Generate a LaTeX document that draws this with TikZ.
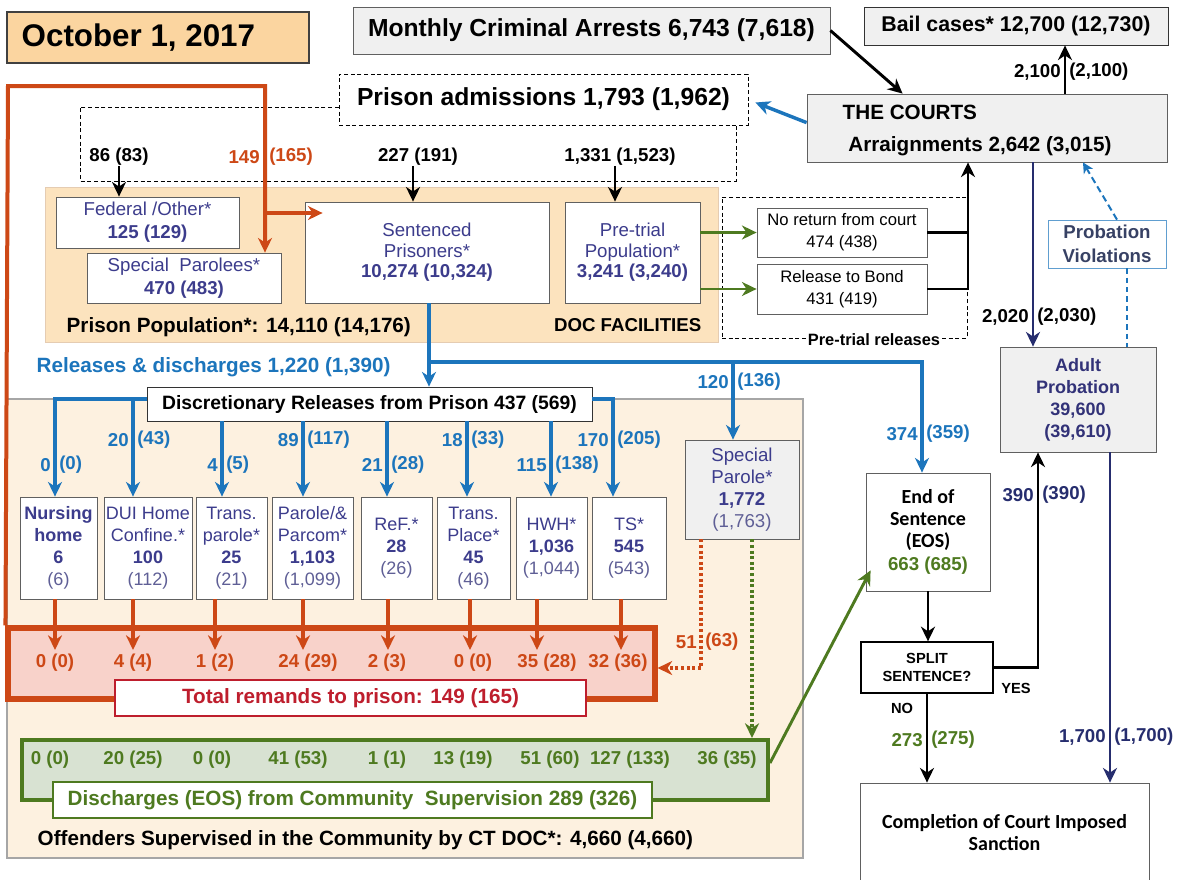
\documentclass[tikz,border=0pt]{standalone}
\usepackage{fontspec}
\setmainfont{Liberation Sans}
\newfontfamily\carl{Carlito}
\usetikzlibrary{arrows.meta,calc}
\newcommand\fs[2]{\fontsize{#1}{#2}\selectfont}
\definecolor{dateF}{RGB}{251,213,160}
\definecolor{docF}{RGB}{252,227,190}
\definecolor{comF}{RGB}{253,241,224}
\definecolor{grayF}{RGB}{240,240,240}
\definecolor{pb}{RGB}{60,60,140}
\definecolor{pbl}{RGB}{95,95,150}
\definecolor{bl}{RGB}{28,117,188}
\definecolor{rd}{RGB}{205,72,22}
\definecolor{crim}{RGB}{190,30,45}
\definecolor{gr}{RGB}{78,122,32}
\definecolor{grF}{RGB}{216,226,210}
\definecolor{pinkF}{RGB}{248,210,202}
\definecolor{nv}{RGB}{38,45,110}
\definecolor{apc}{RGB}{50,50,120}
\definecolor{pvc}{RGB}{55,65,100}
% box from corner (x1,y1) to (x2,y2) in pixels
\newcommand\BX[7]{\node[bx,minimum width={(#4-#2)*0.75pt},minimum height={(#5-#3)*0.75pt},#6] (#1) at ({(#2+#4)/2},{(#3+#5)/2}) {#7};}
\newcommand\splab[6]{%
  \node[lab,text=#4,anchor=east] (#1a) at (#2-4,#3) {#5};
  \node[lab,text=#4,anchor=west] (#1b) at (#2+4,#3) {#6};}
\newcommand\combox[4]{\BX{#1}{#2}{497}{#3}{599}{text=pb, font=\fs{13.5}{16.5}}{#4}}
\begin{document}
\begin{tikzpicture}[x=0.75pt,y=-0.75pt,
  bx/.style={draw=gray!75!black, line width=0.6pt, fill=white, inner sep=0pt, align=center},
  lab/.style={font=\bfseries\fs{14}{16}, inner sep=0pt},
  tip/.style={-{Stealth[length=11pt,width=10.5pt,inset=3.5pt]}},
  smalltip/.style={-{Stealth[length=8pt,width=8pt,inset=2.5pt]}},
  blk/.style={draw=black, line width=2.2pt, tip},
  blu/.style={draw=bl, line width=2.6pt, tip},
  rdl/.style={draw=rd, line width=2.4pt, tip},
  nvl/.style={draw=nv, line width=2pt, tip},
  grl/.style={draw=gr, line width=2.2pt, tip},
  dsh/.style={draw=black, line width=0.6pt, dash pattern=on 3pt off 2pt},
  dotl/.style={line width=2.8pt, dash pattern=on 2.2pt off 2pt, tip},
]
\path[use as bounding box, fill=white] (0,0) rectangle (1186,879);

% ---------- regions
\BX{comm}{7}{399}{803}{858}{draw=gray!70, line width=0.8pt, fill=comF}{}
\BX{doc}{45}{187}{718}{342}{draw=brown!40, fill=docF}{}

% ---------- top row
\BX{date}{7}{12}{309}{63}{fill=dateF, draw=gray!50!black, line width=0.9pt}{}
\node[anchor=west, font=\bfseries\fs{23.5}{26}] (datet) at (17,38) {October 1, 2017};
\BX{mon}{353}{7}{830}{54}{fill=grayF}{\bfseries\fs{18.5}{20}Monthly Criminal Arrests 6,743 (7,618)}
\BX{bail}{864}{7}{1168}{45}{fill=grayF, draw=black!80}{\bfseries\fs{16}{18}Bail cases* 12,700 (12,730)}
\BX{courts}{807}{94}{1167}{162}{fill=grayF}{}
\node[anchor=west, font=\bfseries\fs{15.5}{18}] (courtsT) at (838,112) {THE COURTS};
\node[font=\bfseries\fs{15.5}{18}] (arrg) at (980,146) {Arraignments 2,642 (3,015)};

\BX{adm}{339}{74}{748}{125}{draw=black, dash pattern=on 3pt off 2pt}{\bfseries\fs{18.5}{20}Prison admissions 1,793 (1,962)}
\coordinate (o1) at (80,107); \coordinate (o2) at (80,181); \coordinate (o3) at (736,181);
\draw[dsh] (adm.west |- o1) -- (o1) -- (o2) -- (o3) -- (o3 |- adm.south);

\node[lab] (l86) at (119,157) {86 (83)};
\node[lab, text=rd, anchor=east] (l149a) at (260,157) {149};
\node[lab, text=rd, anchor=west] (l149b) at (269,157) {(165)};
\node[lab] (l227) at (418,157) {227 (191)};
\node[lab] (l1331) at (620,157) {1,331 (1,523)};

% ---------- DOC facilities
\BX{fed}{56}{197}{239}{248}{text=pb, font=\fs{14}{17}}{Federal /Other*\\\textbf{125 (129)}}
\BX{spp}{87}{253}{281}{303}{text=pb, font=\fs{14}{17}}{Special\ \ Parolees*\\\textbf{470 (483)}}
\BX{sent}{305}{202}{549}{303}{text=pb, font=\fs{14}{15.5}}{Sentenced\\Prisoners*\\\textbf{10,274 (10,324)}}
\BX{pre}{565}{202}{700}{303}{text=pb, font=\fs{14}{15.5}}{Pre-trial\\Population*\\\textbf{3,241 (3,240)}}
\node[font=\bfseries\fs{15.5}{18}, anchor=west] (ppop) at (62,327) {Prison Population*: 14,110 (14,176)};
\node[font=\bfseries\fs{14}{16}, anchor=east] (docf) at (706,325) {DOC FACILITIES};

% ---------- pre-trial releases
\BX{ptr}{722}{197}{967}{338}{fill=none, draw=black, dash pattern=on 3pt off 2pt}{}
\node[font=\bfseries\fs{12.3}{14}, fill=white, inner sep=1.5pt] (ptrl) at (874,340) {Pre-trial releases};
\BX{nr}{757}{208}{927}{257}{font=\fs{12.5}{16.5}}{No return from court\\474 (438)}
\BX{rb}{757}{264}{927}{314}{font=\fs{12.5}{16.5}}{Release to Bond\\431 (419)}

% ---------- right column
\BX{pv}{1048}{220}{1166}{268}{draw=bl!70, text=pvc, font=\bfseries\fs{14}{18}}{Probation\\Violations}
\BX{ap}{1000}{347}{1156}{452}{fill=grayF, text=apc, font=\bfseries\fs{13.5}{16.5}}{Adult\\Probation\\39,600\\(39,610)}

% ---------- releases
\node[font=\bfseries\fs{15.5}{18}, text=bl, anchor=west] (rel) at (32,367) {Releases \& discharges 1,220 (1,390)};

% ---------- remands box
\BX{rem}{8}{628}{655}{699}{draw=rd, line width=3.8pt, fill=pinkF}{}
\BX{tot}{115}{680}{586}{716}{draw=crim, line width=1pt, text=crim, font=\bfseries\fs{15.5}{18}}{Total remands to prison: 149 (165)}

% ---------- discharges box
\BX{gbox}{22}{740}{768}{800}{draw=gr, line width=3pt, fill=grF}{}
\BX{dis}{53}{782}{652}{818}{draw=gr, line width=1pt, text=gr, font=\bfseries\fs{15.5}{18}}{Discharges (EOS) from Community\ \ Supervision 289 (326)}
\node[font=\bfseries\fs{15.5}{18}, anchor=west] (offs) at (33,840) {Offenders Supervised in the Community by CT DOC*: 4,660 (4,660)};

% ---------- red loop
\coordinate (r1) at (8,86); \coordinate (r2) at (265,86); \coordinate (r3) at (265,213);
\draw[draw=rd, line width=3pt, tip] (rem.north west) -- (r1) -- (r2) -- (r2 |- spp.north);
\draw[draw=rd, line width=3pt, tip] (r3) -- ($(r3 -| sent.west)+(18,0)$);

% ---------- discretionary and community boxes
\BX{disc}{147}{387}{592}{421}{draw=black!80, font=\bfseries\fs{14.5}{17}}{Discretionary Releases from Prison 437 (569)}
\combox{nh}{20}{97}{\textbf{Nursing}\\\textbf{home}\\\textbf{6}\\{\color{pbl}(6)}}
\combox{dui}{104}{192}{DUI\ Home\\Confine.*\\\textbf{100}\\{\color{pbl}(112)}}
\combox{tp}{196}{267}{Trans.\\parole*\\\textbf{25}\\{\color{pbl}(21)}}
\combox{par}{272}{353}{Parole/\&\\Parcom*\\\textbf{1,103}\\{\color{pbl}(1,099)}}
\combox{ref}{361}{432}{ReF.*\\\textbf{28}\\{\color{pbl}(26)}}
\combox{tpl}{437}{510}{Trans.\\Place*\\\textbf{45}\\{\color{pbl}(46)}}
\combox{hwh}{516}{587}{HWH*\\\textbf{1,036}\\{\color{pbl}(1,044)}}
\combox{ts}{592}{666}{TS*\\\textbf{545}\\{\color{pbl}(543)}}
\BX{sp}{685}{440}{799}{539}{fill=grayF, text=pb, font=\fs{14}{16.5}}{Special\\Parole*\\\textbf{1,772}\\{\color{pbl}(1,763)}}

% ---------- EOS / split / completion
\BX{eos}{866}{473}{990}{591}{font=\carl\bfseries\fs{15}{16.5}}{End of\\Sentence\\(EOS)\\[1pt]{\rmfamily\bfseries\fs{14}{16}\color{gr}663 (685)}}
\BX{split}{861}{642}{993}{693}{draw=black, line width=1pt, font=\bfseries\fs{11}{13.5}}{SPLIT\\SENTENCE?}
\BX{comp}{860}{783}{1149}{882}{font=\carl\bfseries\fs{15}{17}}{Completion of Court Imposed\\Sanction}

% ---------- top connectors
\draw[blk] (mon.east) -- ($(courts.north west)+(96,0)$);
\coordinate (cb) at (1065,0);
\draw[blk] (courts.north -| cb) -- (bail.south -| cb);
\splab{l21}{1065}{72}{black}{2,100}{(2,100)}
\draw[blu] ($(courts.north west)+(0,29)$) -- ($(adm.east)+(7,3)$);
\draw[blk] (l86.south) -- (l86.south |- fed.north);
\coordinate (a227) at (413,0); \coordinate (a1331) at (615,0);
\draw[blk] (a227 |- l227.south) -- (a227 |- sent.north);
\draw[blk] (a1331 |- l1331.south) -- (a1331 |- pre.north);

\draw[grl] (pre.east |- nr.west) -- (nr.west);
\draw[grl] (pre.east |- rb.west) -- (rb.west);
\coordinate (cv) at (968,0);
\draw[draw=black, line width=2.2pt] (nr.east) -- (nr.east -| cv);
\draw[blk] (rb.east) -- (rb.east -| cv) -- (cv |- courts.south);

\coordinate (nv1) at (1033,0);
\draw[nvl] (courts.south -| nv1) -- (ap.north -| nv1);
\splab{l20}{1033}{317}{black}{2,020}{(2,030)}
\coordinate (pv1) at (1117,0); \coordinate (pv2) at (1083,0); \coordinate (pv3) at (1127,0);
\draw[draw=bl, line width=1.5pt, dash pattern=on 5pt off 3pt, smalltip] (pv.north -| pv1) -- (pv2 |- courts.south);
\draw[draw=bl, line width=1.5pt, dash pattern=on 4pt off 3pt] (pv.south -| pv3) -- (ap.north -| pv3);

% ---------- releases flows
\coordinate (j1) at (429,362); \coordinate (j2) at (922,362); \coordinate (j3) at (733,362);
\draw[blu] (sent.south -| j1) -- (disc.north -| j1);
\draw[blu] (j1) -- (j2) -- (j2 |- eos.north);
\draw[blu] (j3) -- (j3 |- sp.north);
\splab{l120}{733}{382}{bl}{120}{(136)}
\splab{l374}{922}{434}{bl}{374}{(359)}

\coordinate (dl) at (0,399);
\coordinate (b1) at (55,0); \coordinate (b2) at (133,0); \coordinate (b3) at (222,0);
\coordinate (b4) at (303,0); \coordinate (b5) at (387,0); \coordinate (b6) at (467,0);
\coordinate (b7) at (551,0); \coordinate (b8) at (613,0);
\draw[blu] (disc.west |- dl) -- (b1 |- dl) -- (b1 |- nh.north);
\draw[blu] (b2 |- dl) -- (b2 |- dui.north);
\draw[blu] (disc.south -| b3) -- (b3 |- tp.north);
\draw[blu] (disc.south -| b4) -- (b4 |- par.north);
\draw[blu] (disc.south -| b5) -- (b5 |- ref.north);
\draw[blu] (disc.south -| b6) -- (b6 |- tpl.north);
\draw[blu] (disc.south -| b7) -- (b7 |- hwh.north);
\draw[blu] (disc.east |- dl) -- (b8 |- dl) -- (b8 |- ts.north);
\splab{lb1}{55}{465}{bl}{0}{(0)}
\splab{lb2}{133}{440}{bl}{20}{(43)}
\splab{lb3}{222}{465}{bl}{4}{(5)}
\splab{lb4}{303}{440}{bl}{89}{(117)}
\splab{lb5}{387}{465}{bl}{21}{(28)}
\splab{lb6}{467}{440}{bl}{18}{(33)}
\splab{lb7}{551}{465}{bl}{115}{(138)}
\splab{lb8}{613}{440}{bl}{170}{(205)}

% ---------- remands
\foreach \n/\x/\b in {1/55/nh,2/133/dui,3/215/tp,4/303/par,5/388/ref,6/470/tpl,7/537/hwh,8/621/ts}{
  \coordinate (ra\n) at (\x,650);
  \draw[rdl] (\b.south -| ra\n) -- (ra\n);
}
\foreach \n/\x/\t in {1/55/0 (0),2/133/4 (4),3/215/1 (2),4/308/24 (29),5/387/2 (3),6/473/0 (0),7/547/35 (28),8/618/32 (36)}{
  \node[lab, text=rd] (rt\n) at (\x,663) {\t};
}
\coordinate (d1) at (701,668); \coordinate (d2) at (752,0);
\draw[dotl, draw=rd] (sp.south -| d1) -- (d1) -- (d1 -| rem.east);
\draw[dotl, draw=gr] (sp.south -| d2) -- (d2 |- gbox.north);
\splab{l51}{701}{642}{rd}{51}{(63)}

% ---------- discharges labels
\foreach \n/\x/\t in {1/50/0 (0),2/133/20 (25),3/212/0 (0),4/298/41 (53),5/387/1 (1),6/463/13 (19),7/550/51 (60),8/630/127 (133),9/727/36 (35)}{
  \node[lab, text=gr] (gt\n) at (\x,760) {\t};
}
\draw[grl] ($(gbox.east)+(0,-7)$) -- ($(eos.south west)+(5,-21)$);

% ---------- EOS flows
\draw[blk] (eos.south) -- (split.north -| eos.south);
\coordinate (ys) at (1038,0);
\draw[blk] (split.east) -- (split.east -| ys) -- (ys |- ap.south);
\splab{l390}{1038}{495}{nv}{390}{(390)}
\node[font=\bfseries\fs{11}{13}] (yes) at (1016,688) {YES};
\node[font=\bfseries\fs{11}{13}] (no) at (902,708) {NO};
\draw[blk] (split.south) -- (comp.north -| split.south);
\splab{l273}{927}{740}{gr}{273}{(275)}
\coordinate (nv2) at (1110,0);
\draw[nvl] (ap.south -| nv2) -- (comp.north -| nv2);
\splab{l1700}{1110}{737}{nv}{1,700}{(1,700)}
\end{tikzpicture}
\end{document}
